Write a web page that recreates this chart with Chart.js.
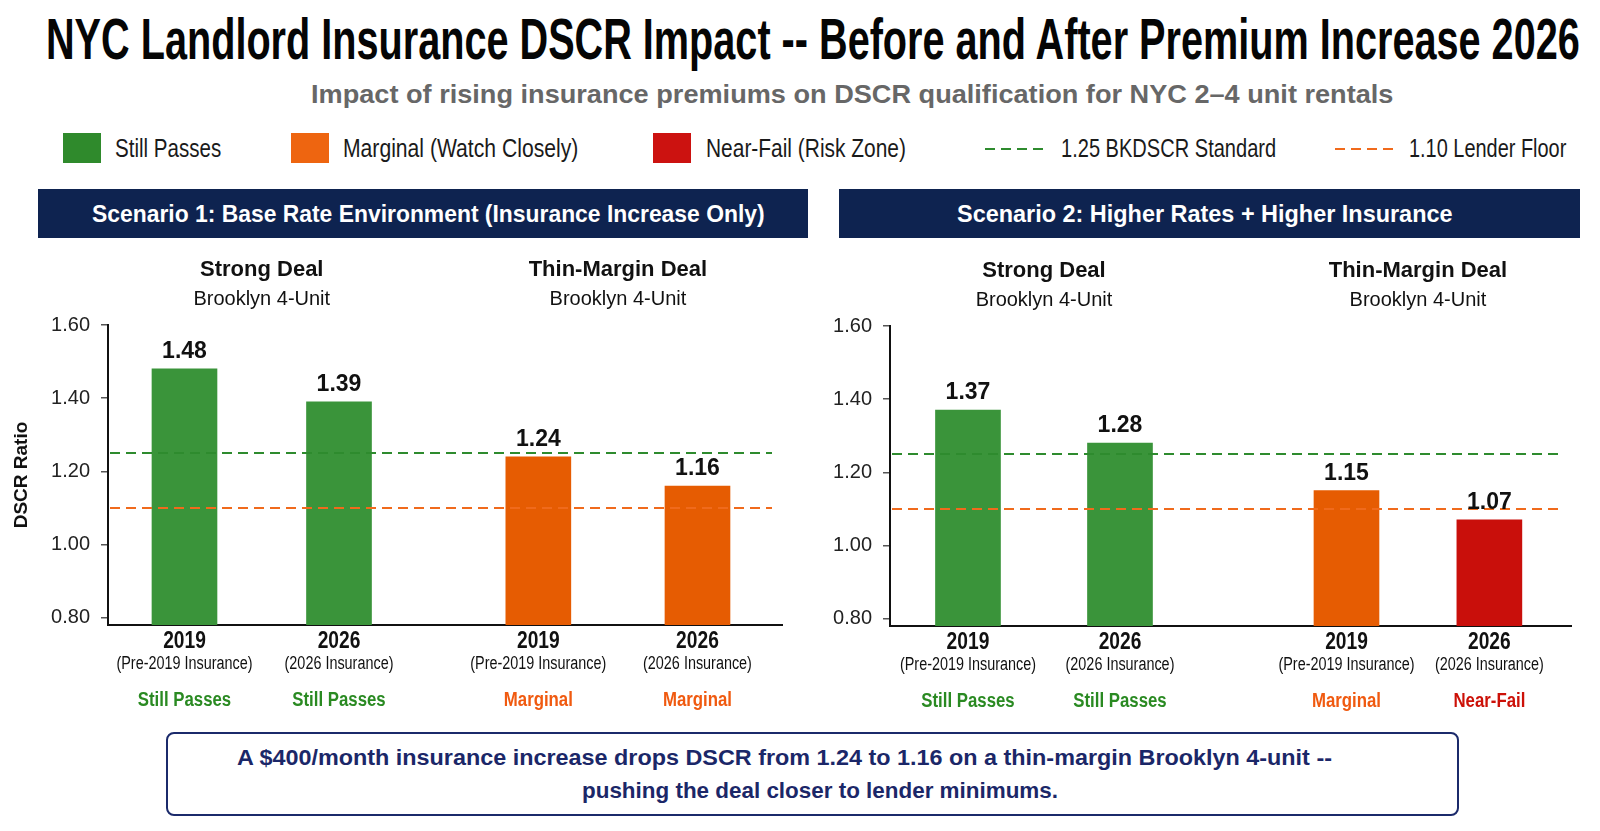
<!DOCTYPE html>
<html>
<head>
<meta charset="utf-8">
<title>NYC Landlord Insurance DSCR Impact</title>
<script src="https://cdn.jsdelivr.net/npm/chart.js@4.4.1/dist/chart.umd.min.js"></script>
<style>
  html, body { margin: 0; padding: 0; background: #fff; }
  body { width: 1600px; height: 831px; position: relative; overflow: hidden; font-family: "Liberation Sans", Arial, sans-serif; color: #111; }
  .t { position: absolute; white-space: nowrap; display: inline-block; transform-origin: 0 0; }
  .swatch { position: absolute; width: 38px; height: 30px; }
  .dash { position: absolute; height: 2px; }
  .header { position: absolute; top: 189px; height: 49px; background: #0e2350; }
  .callout { position: absolute; left: 166px; top: 732px; width: 1289px; height: 80px; border: 2px solid #1b2a6b; border-radius: 8px; background: #fff; }
  canvas { position: absolute; }
</style>
</head>
<body>

<div class="t" data-w="1534" style="left:46px;top:11px;font-size:57px;line-height:57px;font-weight:bold;color:#050505;">NYC Landlord Insurance DSCR Impact -- Before and After Premium Increase 2026</div>
<div class="t" data-w="1082" style="left:311px;top:82px;font-size:25px;line-height:25px;font-weight:bold;color:#676767;">Impact of rising insurance premiums on DSCR qualification for NYC 2–4 unit rentals</div>

<!-- legend -->
<div class="swatch" style="left:63px;top:133px;background:#2f8a2c;"></div>
<div class="t" data-w="106" style="left:115px;top:136px;font-size:25px;line-height:25px;color:#1a1a1a;">Still Passes</div>
<div class="swatch" style="left:291px;top:133px;background:#ee6510;"></div>
<div class="t" data-w="235" style="left:343px;top:136px;font-size:25px;line-height:25px;color:#1a1a1a;">Marginal (Watch Closely)</div>
<div class="swatch" style="left:653px;top:133px;background:#cc1210;"></div>
<div class="t" data-w="200" style="left:706px;top:136px;font-size:25px;line-height:25px;color:#1a1a1a;">Near-Fail (Risk Zone)</div>
<div class="dash" style="left:985px;top:148px;width:61px;background:repeating-linear-gradient(to right,#2e8b2e 0 10px,transparent 10px 16px);"></div>
<div class="t" data-w="215" style="left:1061px;top:136px;font-size:25px;line-height:25px;color:#1a1a1a;">1.25 BKDSCR Standard</div>
<div class="dash" style="left:1335px;top:148px;width:61px;background:repeating-linear-gradient(to right,#f06a1c 0 10px,transparent 10px 16px);"></div>
<div class="t" data-w="157" style="left:1409px;top:136px;font-size:25px;line-height:25px;color:#1a1a1a;">1.10 Lender Floor</div>

<!-- scenario headers -->
<div class="header" style="left:38px;width:770px;"></div>
<div class="t" data-w="673" style="left:92px;top:202px;font-size:24px;line-height:24px;font-weight:bold;color:#fff;">Scenario 1: Base Rate Environment (Insurance Increase Only)</div>
<div class="header" style="left:839px;width:741px;"></div>
<div class="t" data-w="496" style="left:957px;top:202px;font-size:24px;line-height:24px;font-weight:bold;color:#fff;">Scenario 2: Higher Rates + Higher Insurance</div>

<canvas id="chart1" width="800" height="470" style="left:0;top:250px;"></canvas>
<canvas id="chart2" width="800" height="470" style="left:800px;top:250px;"></canvas>

<!-- takeaway -->
<div class="callout"></div>
<div class="t" data-w="1095" style="left:237px;top:747px;font-size:22px;line-height:22px;font-weight:bold;color:#1b2768;">A $400/month insurance increase drops DSCR from 1.24 to 1.16 on a thin-margin Brooklyn 4-unit --</div>
<div class="t" data-w="476" style="left:582px;top:780px;font-size:22px;line-height:22px;font-weight:bold;color:#1b2768;">pushing the deal closer to lender minimums.</div>

<script>
// Data
const dealGroups = ['Strong Deal', 'Thin-Margin Deal'];
const dealSubtitle = 'Brooklyn 4-Unit';
const years = ['2019', '2026', '2019', '2026'];
const insuranceBasis = ['(Pre-2019 Insurance)', '(2026 Insurance)', '(Pre-2019 Insurance)', '(2026 Insurance)'];
const scenario1Dscr = [1.48, 1.39, 1.24, 1.16];
const scenario2Dscr = [1.37, 1.28, 1.15, 1.07];
const scenario1Status = ['Still Passes', 'Still Passes', 'Marginal', 'Marginal'];
const scenario2Status = ['Still Passes', 'Still Passes', 'Marginal', 'Near-Fail'];
const yTicks = [0.80, 1.00, 1.20, 1.40, 1.60];
const bkdscrStandard = 1.25;
const lenderFloor = 1.10;

// bar slots along the x axis (gap between the two deals)
const scenario1Slots = [0, 1, 2.29, 3.32];
const scenario2Slots = [0, 1, 2.49, 3.43];

const barColors = { 'Still Passes': '#3a943a', 'Marginal': '#e65c02', 'Near-Fail': '#c90f0b' };
const statusColors = { 'Still Passes': '#2a8a22', 'Marginal': '#f05a10', 'Near-Fail': '#cc1108' };

// squeeze html texts to their measured widths
document.querySelectorAll('.t[data-w]').forEach(el => {
  const w = parseFloat(el.getAttribute('data-w'));
  el.style.transform = 'scaleX(' + (w / el.offsetWidth) + ')';
});

function drawText(ctx, text, x, y, font, color, sx) {
  ctx.save();
  ctx.font = font;
  ctx.fillStyle = color;
  ctx.textAlign = 'center';
  ctx.textBaseline = 'middle';
  ctx.translate(x, y);
  ctx.scale(sx, 1);
  ctx.fillText(text, 0, 0);
  ctx.restore();
}

const panelDecor = {
  id: 'panelDecor',
  afterDatasetsDraw(chart, args, opts) {
    const { ctx, chartArea, scales: { y } } = chart;
    // threshold lines
    [[bkdscrStandard, '#2e8b2e'], [lenderFloor, '#f06a1c']].forEach(([v, c]) => {
      const py = y.getPixelForValue(v);
      ctx.save();
      ctx.strokeStyle = c;
      ctx.lineWidth = 2;
      ctx.setLineDash([10, 6]);
      ctx.beginPath();
      ctx.moveTo(chartArea.left + 2, py);
      ctx.lineTo(chartArea.right - 10, py);
      ctx.stroke();
      ctx.restore();
    });
    // value labels
    const meta = chart.getDatasetMeta(0);
    meta.data.forEach((bar, i) => {
      ctx.save();
      ctx.font = 'bold 23px "Liberation Sans", Arial';
      ctx.fillStyle = '#111';
      ctx.textAlign = 'center';
      ctx.textBaseline = 'alphabetic';
      ctx.fillText(opts.values[i].toFixed(2), bar.x, bar.y - 11);
      ctx.restore();
    });
  },
  afterDraw(chart, args, opts) {
    const { ctx, chartArea, scales: { x } } = chart;
    dealGroups.forEach((g, gi) => {
      const cx = (x.getPixelForValue(opts.slots[gi * 2]) + x.getPixelForValue(opts.slots[gi * 2 + 1])) / 2;
      drawText(ctx, g, cx, chartArea.top - 55, 'bold 22px "Liberation Sans", Arial', '#111', 1);
      drawText(ctx, dealSubtitle, cx, chartArea.top - 26, '20px "Liberation Sans", Arial', '#111', 1);
    });
    opts.slots.forEach((s, i) => {
      const px = x.getPixelForValue(s);
      drawText(ctx, years[i], px, chartArea.bottom + 16, 'bold 24px "Liberation Sans", Arial', '#111', 0.8);
      drawText(ctx, insuranceBasis[i], px, chartArea.bottom + 39, '18px "Liberation Sans", Arial', '#111', 0.8);
      drawText(ctx, opts.status[i], px, chartArea.bottom + 75, 'bold 20px "Liberation Sans", Arial', statusColors[opts.status[i]], 0.84);
    });
  }
};

function buildPanel(id, values, status, slots, xRange, yWidth, pad, xHeight, showTitle) {
  return new Chart(document.getElementById(id), {
    type: 'bar',
    data: {
      datasets: [{
        data: values.map((v, i) => ({ x: slots[i], y: v })),
        backgroundColor: status.map(s => barColors[s]),
        borderWidth: 0,
        barThickness: 65
      }]
    },
    options: {
      responsive: false,
      animation: false,
      layout: { padding: pad },
      plugins: {
        legend: { display: false },
        tooltip: { enabled: false },
        panelDecor: { values: values, status: status, slots: slots }
      },
      scales: {
        x: {
          type: 'linear',
          offset: false,
          min: xRange[0],
          max: xRange[1],
          ticks: { display: false },
          grid: { display: false },
          border: { display: true, color: '#111', width: 2 },
          afterFit: s => { s.height = xHeight; }
        },
        y: {
          min: 0.78,
          max: 1.6,
          afterBuildTicks: s => { s.ticks = yTicks.map(v => ({ value: v })); },
          ticks: {
            padding: 11,
            color: '#222',
            font: { family: '"Liberation Sans", Arial', size: 20 },
            callback: v => Number(v).toFixed(2)
          },
          grid: { drawOnChartArea: false, drawTicks: true, tickLength: 7, color: '#555', lineWidth: 1.5 },
          border: { display: true, color: '#111', width: 2 },
          title: {
            display: showTitle,
            text: 'DSCR Ratio',
            color: '#111',
            font: { family: '"Liberation Sans", Arial', size: 19, weight: 'bold' },
            padding: { top: 10, bottom: 0 }
          },
          afterFit: s => { s.width = yWidth; }
        }
      }
    },
    plugins: [panelDecor]
  });
}

buildPanel('chart1', scenario1Dscr, scenario1Status, scenario1Slots, [-0.495, 3.867], 108,
  { top: 75, right: 18, left: 0, bottom: 0 }, 95, true);
buildPanel('chart2', scenario2Dscr, scenario2Status, scenario2Slots, [-0.513, 3.967], 90,
  { top: 76, right: 29, left: 0, bottom: 0 }, 94, false);
</script>
</body>
</html>
